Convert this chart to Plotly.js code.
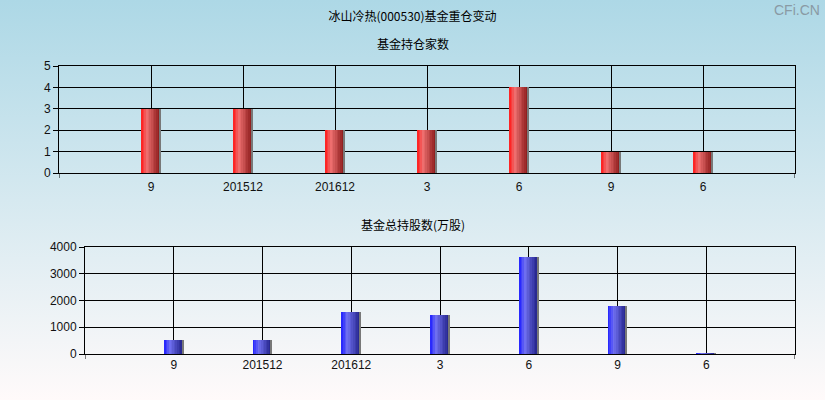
<!DOCTYPE html>
<html>
<head>
<meta charset="utf-8">
<script src="https://cdn.plot.ly/plotly-3.0.1.min.js"></script>
<style>
html,body{margin:0;padding:0;}
#chart{width:825px;height:400px;background:linear-gradient(to bottom, rgb(173,216,230) 0%, rgb(214,233,240) 50%, rgb(255,250,250) 100%);}
</style>
</head>
<body>
<div id="chart"></div>
<script>
// ---- data ----
const categories = ['9', '201512', '201612', '3', '6', '9', '6'];
const fundCount = [3, 3, 2, 2, 4, 1, 1];
const totalShares = [535, 535, 1580, 1470, 3640, 1805, 40];
const mainTitle = '冰山冷热(000530)基金重仓变动';
const topTitle = '基金持仓家数';
const bottomTitle = '基金总持股数(万股)';

// ---- styling ----
const xpos = categories.map((c, i) => i + 1);
const barW = 0.22;
const nSlices = 12;
function lerp(a, b, t) { return a.map((v, k) => Math.round(v + (b[k] - v) * t)); }
function gradColor(stops, t) {
  for (let k = 0; k < stops.length - 1; k++) {
    if (t <= stops[k + 1][0]) {
      const tt = (t - stops[k][0]) / (stops[k + 1][0] - stops[k][0]);
      const c = lerp(stops[k][1], stops[k + 1][1], tt);
      return 'rgb(' + c.join(',') + ')';
    }
  }
  const c = stops[stops.length - 1][1];
  return 'rgb(' + c.join(',') + ')';
}
const redStops = [[0, [255, 25, 25]], [0.3, [238, 112, 112]], [1, [125, 15, 15]]];
const blueStops = [[0, [30, 30, 255]], [0.3, [112, 112, 240]], [1, [25, 25, 125]]];

function slicedBars(yvals, stops, xa, ya, widthPerPx) {
  const traces = [];
  const sw = barW / nSlices;
  for (let i = 0; i < nSlices; i++) {
    const t = (i + 0.5) / nSlices;
    traces.push({
      type: 'bar', x: xpos, y: yvals, xaxis: xa, yaxis: ya,
      width: (i < nSlices - 1) ? sw * 1.6 : sw,
      offset: -barW / 2 + i * sw,
      marker: { color: gradColor(stops, t), line: { width: 0 } },
      hoverinfo: 'skip', showlegend: false
    });
  }
  // grey edge on the right
  traces.push({
    type: 'bar', x: xpos, y: yvals, xaxis: xa, yaxis: ya,
    width: 2 * widthPerPx, offset: barW / 2 - 2 * widthPerPx,
    marker: { color: 'rgb(120,120,120)', line: { width: 0 } },
    hoverinfo: 'skip', showlegend: false
  });
  return traces;
}

const data = [].concat(
  slicedBars(fundCount, redStops, 'x', 'y', 8 / 736),
  slicedBars(totalShares, blueStops, 'x2', 'y2', 8 / 710)
);

const W = 825, H = 400;
const tickFont = { family: 'Liberation Sans, Arial, sans-serif', size: 12, color: '#111' };
const axisCommon = {
  showline: true, linecolor: '#000', linewidth: 1, mirror: true,
  showgrid: true, gridcolor: '#000', gridwidth: 1, zeroline: false,
  tickfont: tickFont, fixedrange: true
};

const layout = {
  width: W, height: H,
  margin: { l: 0, r: 0, t: 0, b: 0 },
  paper_bgcolor: 'rgba(0,0,0,0)', plot_bgcolor: 'rgba(0,0,0,0)',
  barmode: 'overlay', bargap: 0,
  showlegend: false,
  title: { text: mainTitle, x: 0.5, xanchor: 'center', y: 1 - 17 / H, yanchor: 'middle',
           font: { family: 'Noto Sans CJK SC, sans-serif', size: 12, color: '#000' } },
  xaxis: Object.assign({}, axisCommon, {
    domain: [59 / W, 795 / W], anchor: 'y', range: [0, 8],
    tickmode: 'array', tickvals: xpos, ticktext: categories, ticks: '', ticklabelstandoff: 3
  }),
  yaxis: Object.assign({}, axisCommon, {
    domain: [(H - 173) / H, (H - 66) / H], anchor: 'x', range: [0, 5],
    tickmode: 'array', tickvals: [0, 1, 2, 3, 4, 5], ticks: 'outside', ticklen: 5, tickcolor: '#000'
  }),
  xaxis2: Object.assign({}, axisCommon, {
    domain: [85 / W, 795 / W], anchor: 'y2', range: [0, 8],
    tickmode: 'array', tickvals: xpos, ticktext: categories, ticks: ''
  }),
  yaxis2: Object.assign({}, axisCommon, {
    domain: [(H - 354) / H, (H - 247) / H], anchor: 'x2', range: [0, 4000],
    tickmode: 'array', tickvals: [0, 1000, 2000, 3000, 4000], ticks: 'outside', ticklen: 5, tickcolor: '#000'
  }),
  annotations: [
    { text: topTitle, xref: 'paper', yref: 'paper', x: 0.5, y: 1 - 43 / H, xanchor: 'center', yanchor: 'middle',
      showarrow: false, font: { family: 'Noto Sans CJK SC, sans-serif', size: 12, color: '#000' } },
    { text: bottomTitle, xref: 'paper', yref: 'paper', x: 0.5, y: 1 - 224 / H, xanchor: 'center', yanchor: 'middle',
      showarrow: false, font: { family: 'Noto Sans CJK SC, sans-serif', size: 12, color: '#000' } },
    { text: 'CFi.CN', xref: 'paper', yref: 'paper', x: 1 - 3 / W, y: 1 - 10 / H, xanchor: 'right', yanchor: 'middle',
      showarrow: false, font: { family: 'Liberation Sans, Arial, sans-serif', size: 14, color: '#8a9aa4' } }
  ],
  shapes: [
    { type: 'line', xref: 'x', yref: 'paper', x0: 0, x1: 0, y0: (H - 173) / H, y1: (H - 178) / H, line: { color: '#000', width: 1 } },
    { type: 'line', xref: 'x', yref: 'paper', x0: 8, x1: 8, y0: (H - 173) / H, y1: (H - 178) / H, line: { color: '#000', width: 1 } },
    { type: 'line', xref: 'x2', yref: 'paper', x0: 0, x1: 0, y0: (H - 354) / H, y1: (H - 359) / H, line: { color: '#000', width: 1 } },
    { type: 'line', xref: 'x2', yref: 'paper', x0: 8, x1: 8, y0: (H - 354) / H, y1: (H - 359) / H, line: { color: '#000', width: 1 } }
  ]
};

Plotly.newPlot('chart', data, layout, { displayModeBar: false, staticPlot: true });
</script>
</body>
</html>
